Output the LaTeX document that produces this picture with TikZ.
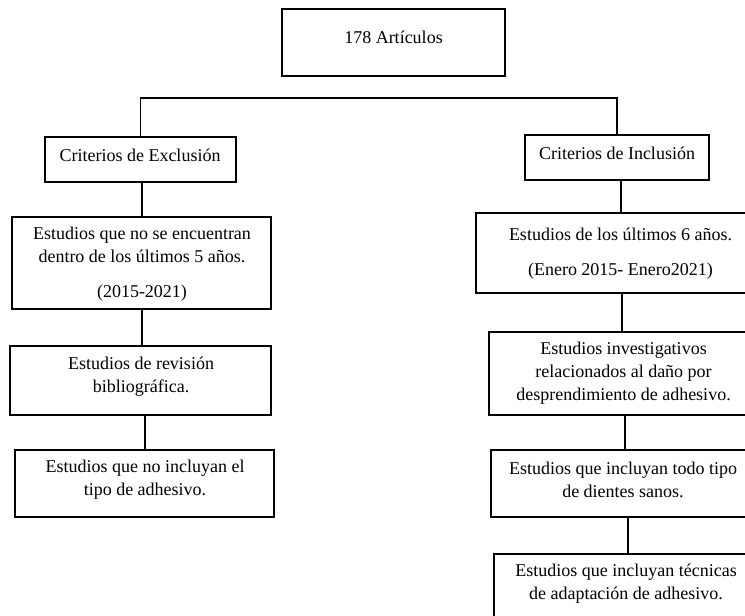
\documentclass[tikz,border=0pt]{standalone}
\usepackage{fontspec}
\setmainfont{Liberation Serif}
\begin{document}
\begin{tikzpicture}[x=1pt,y=-1pt,
  box/.style={draw=black,line width=1.8pt,rectangle,inner sep=0pt},
  txt/.style={inner sep=0pt,align=center,font=\fontsize{18}{23}\selectfont,text=black},
  conn/.style={draw=black,line width=1.8pt}]
\useasboundingbox (0,0) rectangle (745,616);
\fill[white] (0,0) rectangle (745,616);
\clip (0,0) rectangle (745,616);
% boxes
\node[box,minimum width=223pt,minimum height=67pt] (top) at (393.5,42.5) {};
\node[box,minimum width=191pt,minimum height=45pt] (exc) at (140.5,159.5) {};
\node[box,minimum width=184pt,minimum height=45pt] (inc) at (617,157.5) {};
\node[box,minimum width=259pt,minimum height=92pt] (e1) at (141.5,263) {};
\node[box,minimum width=261pt,minimum height=69pt] (e2) at (140.5,380.5) {};
\node[box,minimum width=259pt,minimum height=67pt] (e3) at (144.5,483.5) {};
\node[box,minimum width=289pt,minimum height=80pt] (i1) at (620.5,253) {};
\node[box,minimum width=269pt,minimum height=83pt] (i2) at (623.5,373.5) {};
\node[box,minimum width=264pt,minimum height=67pt] (i3) at (623,483.5) {};
\node[box,minimum width=264pt,minimum height=86pt] (i4) at (626,597) {};
% texts
\node[txt] (ttop) at (393.5,37) {178 Artículos};
\node[txt] (texc) at (140,155) {Criterios de Exclusión};
\node[txt] (tinc) at (617,153) {Criterios de Inclusión};
\node[txt] (te1) at (142,264) {Estudios que no se encuentran\\dentro de los últimos 5 años.\\[12pt](2015-2021)};
\node[txt] (ti1) at (620.5,253.5) {Estudios de los últimos 6 años.\\[12pt](Enero 2015- Enero2021)};
\node[txt] (te2) at (141,377) {Estudios de revisión\\bibliográfica.};
\node[txt] (te3) at (145,480) {Estudios que no incluyan el\\tipo de adhesivo.};
\node[txt] (ti2) at (623.5,373.5) {Estudios investigativos\\relacionados al daño por\\desprendimiento de adhesivo.};
\node[txt] (ti3) at (623,480) {Estudios que incluyan todo tipo\\de dientes sanos.};
\node[txt] (ti4) at (626,584) {Estudios que incluyan técnicas\\de adaptación de adhesivo.};
% connectors
\draw[conn] (exc.north) -- ++(0,-38) -| (inc.north);
\draw[conn] ([xshift=1.5pt]exc.south) -- ([xshift=1.5pt]exc.south |- e1.north);
\draw[conn] ([xshift=0.5pt]e1.south) -- ([xshift=0.5pt]e1.south |- e2.north);
\draw[conn] ([xshift=4.5pt]e2.south) -- ([xshift=4.5pt]e2.south |- e3.north);
\draw[conn] ([xshift=4pt]inc.south) -- ([xshift=4pt]inc.south |- i1.north);
\draw[conn] ([xshift=1.5pt]i1.south) -- ([xshift=1.5pt]i1.south |- i2.north);
\draw[conn] ([xshift=1.5pt]i2.south) -- ([xshift=1.5pt]i2.south |- i3.north);
\draw[conn] ([xshift=5pt]i3.south) -- ([xshift=5pt]i3.south |- i4.north);
\end{tikzpicture}
\end{document}
